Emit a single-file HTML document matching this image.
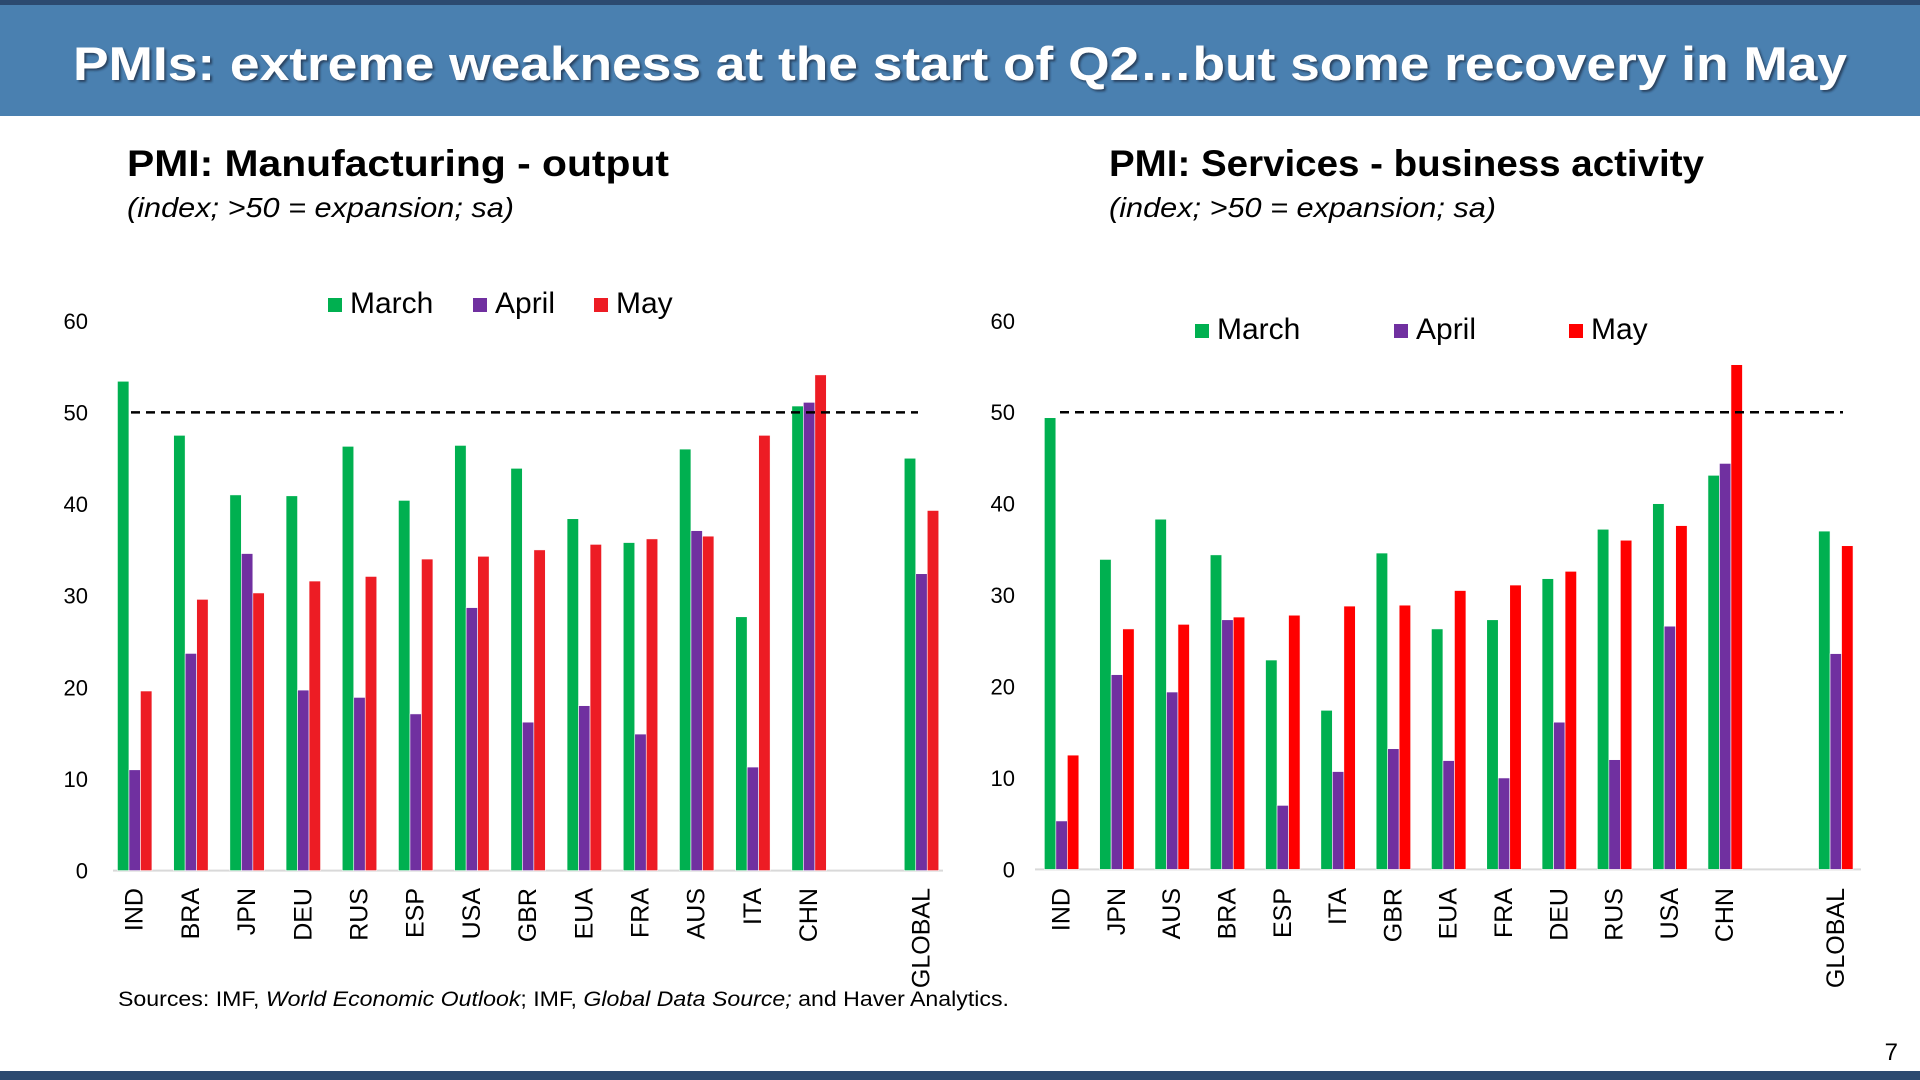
<!DOCTYPE html>
<html><head><meta charset="utf-8"><style>
html,body{margin:0;padding:0;background:#fff;}
svg{display:block;font-family:"Liberation Sans",sans-serif;}
</style></head><body>
<svg id="root" width="1920" height="1080" viewBox="0 0 1920 1080" xmlns="http://www.w3.org/2000/svg">
<defs><filter id="sh"><feDropShadow dx="2" dy="2" stdDeviation="1" flood-color="#1a2a40" flood-opacity="0.7"/></filter></defs>
<rect x="0" y="0" width="1920" height="116" fill="#4a80b0"/>
<rect x="0" y="0" width="1920" height="5" fill="#2c4a70"/>
<text x="960" y="80" text-anchor="middle" font-size="47" font-weight="bold" fill="#fff" filter="url(#sh)" textLength="1774" lengthAdjust="spacingAndGlyphs">PMIs: extreme weakness at the start of Q2…but some recovery in May</text>
<text x="127" y="176" font-size="37" font-weight="bold" fill="#000" textLength="542" lengthAdjust="spacingAndGlyphs">PMI: Manufacturing - output</text>
<text x="127" y="217" font-size="28" font-style="italic" fill="#000" textLength="387" lengthAdjust="spacingAndGlyphs">(index; &gt;50 = expansion; sa)</text>
<text x="1109" y="176" font-size="37" font-weight="bold" fill="#000" textLength="595" lengthAdjust="spacingAndGlyphs">PMI: Services - business activity</text>
<text x="1109" y="217" font-size="28" font-style="italic" fill="#000" textLength="387" lengthAdjust="spacingAndGlyphs">(index; &gt;50 = expansion; sa)</text>
<g id="left"></g>
<g id="right"></g>
<text x="118" y="1006" font-size="21" fill="#000" textLength="891" lengthAdjust="spacingAndGlyphs">Sources: IMF, <tspan font-style="italic">World Economic Outlook</tspan>; IMF, <tspan font-style="italic">Global Data Source;</tspan> and Haver Analytics.</text>
<text x="1898" y="1060" font-size="24" text-anchor="end" fill="#000">7</text>
<rect x="0" y="1071" width="1920" height="9" fill="#2c4a70"/>
</svg>
<script>
const mfgCats = ["IND","BRA","JPN","DEU","RUS","ESP","USA","GBR","EUA","FRA","AUS","ITA","CHN","","GLOBAL"];
const mfgMarch = [53.4,47.5,41.0,40.9,46.3,40.4,46.4,43.9,38.4,35.8,46.0,27.7,50.7,null,45.0];
const mfgApril = [11.0,23.7,34.6,19.7,18.9,17.1,28.7,16.2,18.0,14.9,37.1,11.3,51.1,null,32.4];
const mfgMay = [19.6,29.6,30.3,31.6,32.1,34.0,34.3,35.0,35.6,36.2,36.5,47.5,54.1,null,39.3];
const svcCats = ["IND","JPN","AUS","BRA","ESP","ITA","GBR","EUA","FRA","DEU","RUS","USA","CHN","","GLOBAL"];
const svcMarch = [49.4,33.9,38.3,34.4,22.9,17.4,34.6,26.3,27.3,31.8,37.2,40.0,43.1,null,37.0];
const svcApril = [5.3,21.3,19.4,27.3,7.0,10.7,13.2,11.9,10.0,16.1,12.0,26.6,44.4,null,23.6];
const svcMay = [12.5,26.3,26.8,27.6,27.8,28.8,28.9,30.5,31.1,32.6,36.0,37.6,55.2,null,35.4];
const yTicks = [0,10,20,30,40,50,60];
const seriesNames = ["March","April","May"];
const NS="http://www.w3.org/2000/svg";
function mk(p,tag,attrs,txt){const e=document.createElementNS(NS,tag);for(const k in attrs)e.setAttribute(k,attrs[k]);if(txt!==undefined)e.textContent=txt;p.appendChild(e);return e;}
function draw(g,cfg,cats,series,colors){
  const y=v=>cfg.y0-(cfg.y0-cfg.y60)*v/60;
  const xc=i=>cfg.c0+cfg.step*i;
  for(const t of yTicks){const e=mk(g,"text",{x:cfg.tickX,y:y(t)+8,"text-anchor":"end","font-size":22,fill:"#000"},String(t));
    
    }
  const ax=mk(g,"line",{x1:cfg.ax0,x2:cfg.ax1,y1:cfg.y0,y2:cfg.y0,stroke:"#d9d9d9","stroke-width":2});
  
  
  const bw=11.5;
  cats.forEach((c,i)=>{
    series.forEach((s,j)=>{const v=s[i];if(v==null)return;
      const r=mk(g,"rect",{x:xc(i)+(j-1.5)*bw,y:y(v),width:bw,height:cfg.y0-y(v),fill:colors[j],stroke:"#fff","stroke-width":0.6});
      
      });
    if(c){const t=mk(g,"text",{x:0,y:0,transform:`translate(${xc(i)+8},888) rotate(-90)`,"text-anchor":"end","font-size":25,fill:"#000"},c);
      
      }
  });
  const d=mk(g,"line",{x1:cfg.d0,x2:cfg.d1,y1:y(50),y2:y(50),stroke:"#000","stroke-width":2.5,"stroke-dasharray":"9,6"});
  
  
  seriesNames.forEach((n,j)=>{
    const lx=cfg.leg[j];
    const sq=mk(g,"rect",{x:lx,y:cfg.legY-15,width:14,height:14,fill:colors[j]});
    
    
    const t=mk(g,"text",{x:lx+22,y:cfg.legY,"font-size":30,fill:"#000"},n);
    
    
  });
}
draw(document.getElementById("left"),{y0:870.6,y60:320.8,c0:134.7,step:56.2,ax0:113,ax1:943,tickX:88,d0:131,d1:918,leg:[328,473,594],legY:313},
  mfgCats,[mfgMarch,mfgApril,mfgMay],["#00b050","#7030a0","#ed1c24"]);
draw(document.getElementById("right"),{y0:869.4,y60:320.8,c0:1061.6,step:55.3,ax0:1035,ax1:1861,tickX:1015,d0:1060,d1:1843,leg:[1195,1394,1569],legY:339},
  svcCats,[svcMarch,svcApril,svcMay],["#00b050","#7030a0","#ff0000"]);
</script>
</body></html>
